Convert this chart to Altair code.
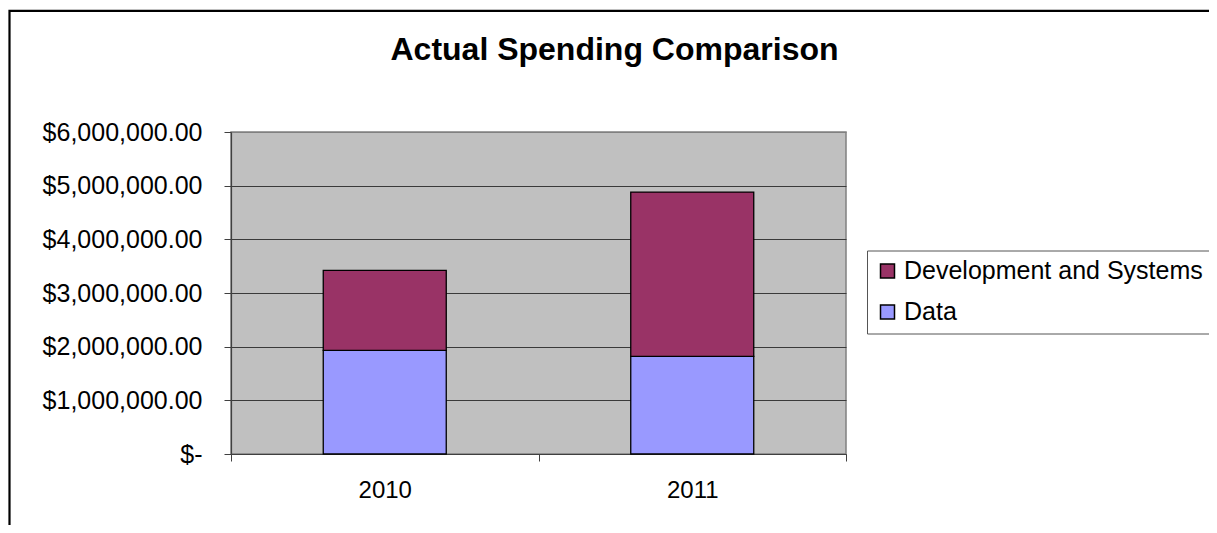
import altair as alt
import pandas as pd

# ---- data ----
years = ["2010", "2011"]
data_values = [1930000, 1820000]
dev_values = [1490000, 3060000]
categories = ["Development and Systems", "Data"]
category_colors = ["#993366", "#9999FF"]
y_ticks = [0, 1000000, 2000000, 3000000, 4000000, 5000000, 6000000]
title_text = "Actual Spending Comparison"

rows = []
for i, yr in enumerate(years):
    rows.append({"Year": yr, "Category": "Data", "Spending": data_values[i], "Stack": 0})
    rows.append({"Year": yr, "Category": "Development and Systems", "Spending": dev_values[i], "Stack": 1})
df = pd.DataFrame(rows)

FONT = "Liberation Sans"
NB = "\u00a0"

frame = alt.Chart(pd.DataFrame({"f": [0]})).mark_rect(
    fillOpacity=0, stroke="black", strokeWidth=2.2
).encode(
    x=alt.value(-221.5), x2=alt.value(1200), y=alt.value(-121.2), y2=alt.value(700)
)

bars = alt.Chart(df).mark_bar(
    stroke="black", strokeWidth=1.3, width=alt.RelativeBandSize(0.4)
).encode(
    x=alt.X(
        "Year:N",
        sort=years,
        scale=alt.Scale(paddingInner=0, paddingOuter=0),
        axis=alt.Axis(
            title=None, labelAngle=0, labelFontSize=24, labelFont=FONT, labelColor="black",
            labelPadding=17, tickBand="extent", tickSize=7, tickColor="#404040",
            domainColor="#404040", domainWidth=1.2, grid=False,
        ),
    ),
    y=alt.Y(
        "Spending:Q",
        stack="zero",
        scale=alt.Scale(domain=[0, 6000000], nice=False),
        axis=alt.Axis(
            title=None, values=y_ticks,
            labelExpr="datum.value == 0 ? '$-" + NB * 4 + "' : '$' + format(datum.value, ',.2f')",
            labelFontSize=25, labelFont=FONT, labelColor="black", labelPadding=22,
            tickSize=7, tickColor="#404040", domainColor="#404040", domainWidth=1.2,
            grid=True,
            gridColor=alt.condition("datum.value == 6000000", alt.value("#808080"), alt.value("#3a3a3a")),
            gridWidth=1.2,
        ),
    ),
    color=alt.Color(
        "Category:N",
        scale=alt.Scale(domain=categories, range=category_colors),
        legend=alt.Legend(
            title=None, orient="none", legendX=636, legendY=118.5,
            symbolType="square", symbolSize=196, symbolStrokeColor="black",
            symbolStrokeWidth=1.5, symbolOpacity=1,
            labelFontSize=25, labelFont=FONT, labelColor="black", labelOffset=4,
            labelLimit=500, rowPadding=15, padding=8,
            strokeColor="#555555", fillColor="white",
        ),
    ),
    order=alt.Order("Stack:Q", sort="ascending"),
)

title = alt.Chart(pd.DataFrame({"t": [title_text]})).mark_text(
    font=FONT, fontSize=32, fontWeight="bold", align="center", baseline="alphabetic", color="black"
).encode(
    text="t:N", x=alt.value(383.5), y=alt.value(-72)
)

chart = alt.layer(frame, bars, title).properties(
    width=615,
    height=322,
    padding={"left": 223, "top": 124, "right": 363, "bottom": 71},
    autosize=alt.AutoSizeParams(type="none"),
    background="white",
).configure_view(
    fill="#C0C0C0", stroke="#808080", strokeWidth=1.5
)

chart.save("out.html", embed_options={"renderer": "svg", "actions": False})
